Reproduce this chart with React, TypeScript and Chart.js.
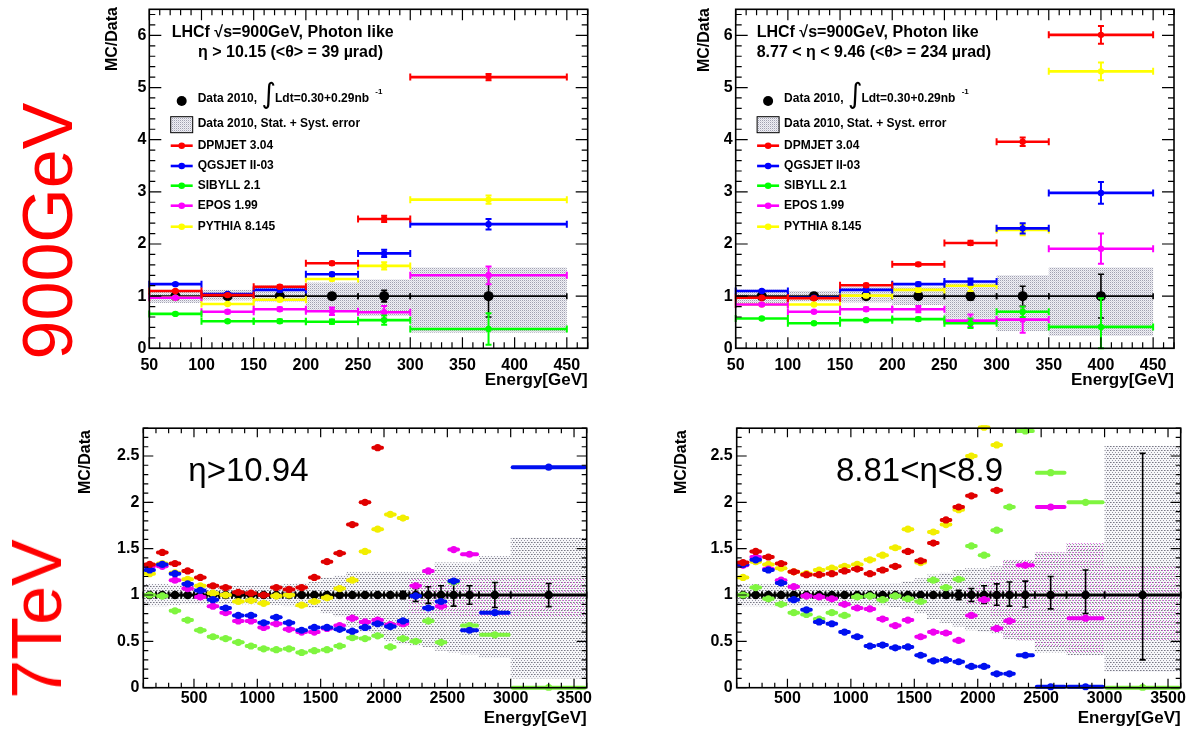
import React, { useEffect, useRef } from "react";
import { Chart, registerables } from "chart.js";

Chart.register(...registerables);

const FONT = "'Liberation Sans', Arial, Helvetica, sans-serif";

// ---------------- shared ----------------
const modelNames = ["DPMJET 3.04", "QGSJET II-03", "SIBYLL 2.1", "EPOS 1.99", "PYTHIA 8.145"];
const topColors = ["#ff0000", "#0000ff", "#00ff00", "#ff00ff", "#ffff00"];
const botColors = ["#e00000", "#0010f0", "#7ff53f", "#f000f0", "#f2ee00"];

const topXTicks = [50, 100, 150, 200, 250, 300, 350, 400, 450];
const topXLabels = ["50", "100", "150", "200", "250", "300", "350", "400", "450"];
const topYTicks = [0, 1, 2, 3, 4, 5, 6];
const topYLabels = ["0", "1", "2", "3", "4", "5", "6"];
const botXTicks = [500, 1000, 1500, 2000, 2500, 3000, 3500];
const botXLabels = ["500", "1000", "1500", "2000", "2500", "3000", "3500"];
const botYTicks = [0, 0.5, 1, 1.5, 2, 2.5];
const botYLabels = ["0", "0.5", "1", "1.5", "2", "2.5"];

// ---------------- top-left: 900 GeV, eta > 10.15 ----------------
const tlLo = [50, 100, 150, 200, 250, 300];
const tlHi = [100, 150, 200, 250, 300, 450];
const tlX = [75, 125, 175, 225, 275, 375];
const tlData = [1, 1, 1, 1, 1, 1];
const tlDataErr = [0.02, 0.02, 0.03, 0.04, 0.11, 0.4];
const tlBandLo = [0.87, 0.92, 0.89, 0.73, 0.62, 0.3];
const tlBandHi = [1.12, 1.12, 1.21, 1.26, 1.32, 1.55];
const tlDpmjet = [1.1, 1.02, 1.18, 1.63, 2.48, 5.2];
const tlQgsjet = [1.23, 1.04, 1.12, 1.42, 1.82, 2.38];
const tlSibyll = [0.66, 0.52, 0.52, 0.51, 0.54, 0.37];
const tlEpos = [0.97, 0.7, 0.75, 0.71, 0.69, 1.4];
const tlPythia = [0.97, 0.85, 0.93, 1.33, 1.58, 2.85];
const tlDpmjetErr = [0.02, 0.02, 0.03, 0.03, 0.06, 0.06];
const tlQgsjetErr = [0.02, 0.02, 0.03, 0.03, 0.07, 0.1];
const tlSibyllErr = [0.02, 0.02, 0.03, 0.04, 0.09, 0.3];
const tlEposErr = [0.02, 0.03, 0.03, 0.07, 0.12, 0.17];
const tlPythiaErr = [0.02, 0.02, 0.03, 0.03, 0.07, 0.08];

// ---------------- top-right: 900 GeV, 8.77 < eta < 9.46 ----------------
const trLo = [50, 100, 150, 200, 250, 300, 350];
const trHi = [100, 150, 200, 250, 300, 350, 450];
const trX = [75, 125, 175, 225, 275, 325, 400];
const trData = [1, 1, 1, 1, 1, 1, 1];
const trDataErr = [0.02, 0.02, 0.02, 0.03, 0.08, 0.19, 0.42];
const trBandLo = [0.86, 0.9, 0.88, 0.83, 0.57, 0.33, 0.24];
const trBandHi = [1.13, 1.1, 1.18, 1.18, 1.28, 1.4, 1.55];
const trDpmjet = [0.97, 0.96, 1.21, 1.61, 2.02, 3.96, 6.01];
const trQgsjet = [1.1, 0.97, 1.12, 1.23, 1.28, 2.3, 2.98];
const trSibyll = [0.57, 0.48, 0.54, 0.56, 0.48, 0.7, 0.41];
const trEpos = [0.84, 0.7, 0.75, 0.75, 0.53, 0.55, 1.91];
const trPythia = [0.84, 0.84, 1.01, 1.12, 1.2, 2.27, 5.31];
const trDpmjetErr = [0.02, 0.02, 0.03, 0.03, 0.04, 0.08, 0.17];
const trQgsjetErr = [0.02, 0.02, 0.03, 0.03, 0.06, 0.1, 0.21];
const trSibyllErr = [0.02, 0.02, 0.02, 0.03, 0.09, 0.1, 0.55];
const trEposErr = [0.02, 0.02, 0.03, 0.06, 0.12, 0.25, 0.29];
const trPythiaErr = [0.02, 0.02, 0.03, 0.03, 0.1, 0.1, 0.17];

// ---------------- bottom-left: 7 TeV, eta > 10.94 ----------------
const blLo = [100, 200, 300, 400, 500, 600, 700, 800, 900, 1000, 1100, 1200, 1300, 1400, 1500, 1600, 1700, 1800, 1900, 2000, 2100, 2200, 2300, 2400, 2500, 2600, 2750, 3000];
const blHi = [200, 300, 400, 500, 600, 700, 800, 900, 1000, 1100, 1200, 1300, 1400, 1500, 1600, 1700, 1800, 1900, 2000, 2100, 2200, 2300, 2400, 2500, 2600, 2750, 3000, 3600];
const blX = [150, 250, 350, 450, 550, 650, 750, 850, 950, 1050, 1150, 1250, 1350, 1450, 1550, 1650, 1750, 1850, 1950, 2050, 2150, 2250, 2350, 2450, 2550, 2675, 2875, 3300];
const blData = [1, 1, 1, 1, 1, 1, 1, 1, 1, 1, 1, 1, 1, 1, 1, 1, 1, 1, 1, 1, 1, 1, 1, 1, 1, 1, 1, 1];
const blDataErr = [0, 0, 0, 0, 0, 0, 0, 0, 0, 0, 0, 0, 0, 0, 0, 0, 0, 0, 0, 0.02, 0.04, 0.07, 0.09, 0.1, 0.12, 0.1, 0.135, 0.125];
const blBandLo = [0.88, 0.88, 0.89, 0.9, 0.9, 0.9, 0.9, 0.9, 0.9, 0.9, 0.89, 0.88, 0.87, 0.86, 0.8, 0.77, 0.66, 0.6, 0.55, 0.5, 0.47, 0.45, 0.44, 0.4, 0.38, 0.36, 0.32, 0.1];
const blBandHi = [1.12, 1.12, 1.11, 1.1, 1.1, 1.1, 1.1, 1.1, 1.1, 1.1, 1.11, 1.12, 1.13, 1.14, 1.19, 1.21, 1.25, 1.25, 1.25, 1.25, 1.25, 1.25, 1.25, 1.35, 1.35, 1.35, 1.42, 1.62];
const blEposBandLo = [null, null, null, null, null, null, null, null, null, null, null, null, null, null, null, null, null, null, null, null, null, 0.8, 0.8, 0.78, 0.78, 0.77, 0.77, 0.77];
const blEposBandHi = [null, null, null, null, null, null, null, null, null, null, null, null, null, null, null, null, null, null, null, null, null, 1.18, 1.18, 1.2, 1.2, 1.2, 1.2, 1.2];
const blDpmjet = [1.33, 1.46, 1.34, 1.26, 1.19, 1.1, 1.08, 1.03, 1.02, 1.0, 1.08, 1.06, 1.08, 1.19, 1.36, 1.45, 1.76, 2.0, 2.59, null, null, null, null, null, null, null, null, null];
const blQgsjet = [1.27, 1.33, 1.23, 1.12, 1.05, 0.95, 0.86, 0.78, 0.78, 0.7, 0.76, 0.7, 0.62, 0.65, 0.65, 0.63, 0.61, 0.65, 0.69, 0.66, 0.72, 0.99, 0.86, 0.93, 1.15, 0.62, 0.81, 2.38];
const blSibyll = [1.0, 0.99, 0.83, 0.73, 0.62, 0.55, 0.53, 0.49, 0.45, 0.42, 0.41, 0.42, 0.38, 0.4, 0.41, 0.45, 0.54, 0.53, 0.56, 0.44, 0.53, 0.5, 0.72, 0.49, 1.14, 0.67, 0.57, 0.0];
const blEpos = [1.31, 1.31, 1.16, 1.07, 0.98, 0.88, 0.81, 0.72, 0.72, 0.65, 0.69, 0.63, 0.6, 0.6, 0.64, 0.67, 0.75, 0.71, 0.73, 0.68, 0.69, 1.1, 1.26, 0.88, 1.49, 1.44, null, null];
const blPythia = [1.23, 1.34, 1.24, 1.17, 1.1, 1.02, 1.0, 0.93, 0.94, 0.91, 0.99, 1.0, 0.89, 0.93, 0.97, 1.07, 1.16, 1.47, 1.71, 1.87, 1.83, null, null, null, null, null, null, null];

// ---------------- bottom-right: 7 TeV, 8.81 < eta < 8.9 ----------------
const brLo = [100, 200, 300, 400, 500, 600, 700, 800, 900, 1000, 1100, 1200, 1300, 1400, 1500, 1600, 1700, 1800, 1900, 2000, 2100, 2200, 2300, 2450, 2700, 3000];
const brHi = [200, 300, 400, 500, 600, 700, 800, 900, 1000, 1100, 1200, 1300, 1400, 1500, 1600, 1700, 1800, 1900, 2000, 2100, 2200, 2300, 2450, 2700, 3000, 3600];
const brX = [150, 250, 350, 450, 550, 650, 750, 850, 950, 1050, 1150, 1250, 1350, 1450, 1550, 1650, 1750, 1850, 1950, 2050, 2150, 2250, 2375, 2575, 2850, 3300];
const brData = [1, 1, 1, 1, 1, 1, 1, 1, 1, 1, 1, 1, 1, 1, 1, 1, 1, 1, 1, 1, 1, 1, 1, 1, 1, 1];
const brDataErrHi = [0, 0, 0, 0, 0, 0, 0, 0, 0, 0, 0, 0, 0, 0, 0, 0, 0.03, 0.05, 0.07, 0.1, 0.12, 0.14, 0.15, 0.2, 0.27, 1.53];
const brDataErrLo = [0, 0, 0, 0, 0, 0, 0, 0, 0, 0, 0, 0, 0, 0, 0, 0, 0.03, 0.05, 0.07, 0.09, 0.11, 0.12, 0.13, 0.15, 0.2, 0.7];
const brBandLo = [0.88, 0.88, 0.88, 0.88, 0.88, 0.88, 0.88, 0.88, 0.88, 0.88, 0.88, 0.88, 0.87, 0.85, 0.8, 0.74, 0.7, 0.66, 0.62, 0.6, 0.58, 0.52, 0.51, 0.38, 0.35, 0.17];
const brBandHi = [1.12, 1.12, 1.12, 1.12, 1.12, 1.12, 1.12, 1.12, 1.12, 1.12, 1.12, 1.12, 1.13, 1.15, 1.18, 1.22, 1.24, 1.27, 1.29, 1.29, 1.31, 1.38, 1.38, 1.46, 1.56, 2.61];
const brEposBandLo = [null, null, null, null, null, null, null, null, null, null, null, null, null, null, null, null, null, null, 0.9, 0.85, 0.75, 0.55, 0.51, 0.45, 0.37, 0.5];
const brEposBandHi = [null, null, null, null, null, null, null, null, null, null, null, null, null, null, null, null, null, null, 1.1, 1.15, 1.25, 1.38, 1.38, 1.46, 1.56, 1.32];
const brDpmjet = [1.35, 1.47, 1.41, 1.34, 1.25, 1.22, 1.22, 1.23, 1.26, 1.28, 1.23, 1.27, 1.31, 1.47, 1.37, 1.56, 1.81, 1.95, 2.07, null, 2.13, null, null, null, null, null];
const brQgsjet = [1.33, 1.38, 1.27, 1.13, 0.95, 0.84, 0.71, 0.69, 0.6, 0.55, 0.45, 0.46, 0.43, 0.44, 0.35, 0.29, 0.3, 0.28, 0.23, 0.23, 0.15, 0.15, 0.35, 0.01, 0.01, null];
const brSibyll = [1.0, 1.08, 0.96, 0.9, 0.81, 0.79, 0.74, 0.81, 0.78, 0.98, 0.99, 0.95, 0.99, 0.96, 0.93, 1.16, 1.08, 1.17, 1.53, 1.43, 1.7, 1.95, 2.77, 2.32, 2.0, 0.0];
const brEpos = [1.32, 1.41, 1.28, 1.16, 1.09, 0.99, 0.98, 0.96, 0.9, 0.86, 0.85, 0.74, 0.67, 0.73, 0.55, 0.6, 0.59, 0.51, 0.78, 0.95, 0.64, 0.72, 1.32, 1.95, 0.75, null];
const brPythia = [1.19, 1.36, 1.33, 1.29, 1.25, 1.23, 1.27, 1.29, 1.31, 1.33, 1.38, 1.43, 1.51, 1.71, 1.35, 1.68, 1.76, 1.92, 2.5, 2.81, 2.62, null, null, null, null, null];

// ---------------- helpers ----------------
const zeros = (n: number) => new Array(n).fill(0);

function makeSeries(vals: any[][], errs: number[][] | null, colors: string[]) {
  return vals.map((v, k) => ({
    label: modelNames[k],
    color: colors[k],
    y: v,
    errLo: errs ? errs[k] : zeros(v.length),
    errHi: errs ? errs[k] : zeros(v.length),
  }));
}

function makeTile(dots: [number, number, string][], bg: string | null, w: number, h: number) {
  const c = document.createElement("canvas");
  c.width = w;
  c.height = h;
  const g = c.getContext("2d")!;
  if (bg) {
    g.fillStyle = bg;
    g.fillRect(0, 0, w, h);
  }
  dots.forEach(([x, y, col]) => {
    g.fillStyle = col;
    g.fillRect(x, y, 1, 1);
  });
  return c;
}

const topText = (text: string, x: number, y: number) => ({ text, x, y, font: `bold 16px ${FONT}` });

const panels: any[] = [
  {
    key: "tl",
    cx: 92, cy: 0, cw: 508, ch: 392,
    pl: 149.3, pr: 587.7, pt: 9.3, pb: 348.3,
    xMin: 50, xMax: 470, yMin: 0, yMax: 6.5,
    xTicks: topXTicks, xLabels: topXLabels, yTicks: topYTicks, yLabels: topYLabels,
    xMinor: 10, yMinor: 0.2, xMaj: 11, xMin2: 6, yMaj: 12, yMin2: 6, xPad: 8, yPad: 3,
    lo: tlLo, hi: tlHi, xc: tlX,
    series: makeSeries([tlDpmjet, tlQgsjet, tlSibyll, tlEpos, tlPythia], [tlDpmjetErr, tlQgsjetErr, tlSibyllErr, tlEposErr, tlPythiaErr], topColors),
    data: tlData, dataErrLo: tlDataErr, dataErrHi: tlDataErr,
    bandLo: tlBandLo, bandHi: tlBandHi, band2Lo: null, band2Hi: null,
    mcLine: 2.6, mcRadius: 3.2, mcCap: 3.5, mcRound: false,
    dataLine: 1.6, dataRadius: 5, dataCap: 3, dataColor: "#000",
    top: true,
    texts: [topText("LHCf \u221As=900GeV, Photon like", 171.7, 33), topText("\u03B7 > 10.15 (<\u03B8> = 39 \u00B5rad)", 198, 52.7)],
    yTitle: { x: 113, y: 7 }, xTitle: { y: 380 },
  },
  {
    key: "tr",
    cx: 680, cy: 0, cw: 508, ch: 392,
    pl: 735.7, pr: 1174, pt: 9.3, pb: 348.3,
    xMin: 50, xMax: 470, yMin: 0, yMax: 6.5,
    xTicks: topXTicks, xLabels: topXLabels, yTicks: topYTicks, yLabels: topYLabels,
    xMinor: 10, yMinor: 0.2, xMaj: 11, xMin2: 6, yMaj: 12, yMin2: 6, xPad: 8, yPad: 3,
    lo: trLo, hi: trHi, xc: trX,
    series: makeSeries([trDpmjet, trQgsjet, trSibyll, trEpos, trPythia], [trDpmjetErr, trQgsjetErr, trSibyllErr, trEposErr, trPythiaErr], topColors),
    data: trData, dataErrLo: trDataErr, dataErrHi: trDataErr,
    bandLo: trBandLo, bandHi: trBandHi, band2Lo: null, band2Hi: null,
    mcLine: 2.6, mcRadius: 3.2, mcCap: 3.5, mcRound: false,
    dataLine: 1.6, dataRadius: 5, dataCap: 3, dataColor: "#000",
    top: true,
    texts: [topText("LHCf \u221As=900GeV, Photon like", 756.7, 33), topText("8.77 < \u03B7 < 9.46 (<\u03B8> = 234 \u00B5rad)", 756.7, 52.7)],
    yTitle: { x: 705, y: 8 }, xTitle: { y: 380 },
  },
  {
    key: "bl",
    cx: 60, cy: 398, cw: 540, ch: 331,
    pl: 143.3, pr: 586.7, pt: 428.2, pb: 687.7,
    xMin: 100, xMax: 3600, yMin: 0, yMax: 2.8,
    xTicks: botXTicks, xLabels: botXLabels, yTicks: botYTicks, yLabels: botYLabels,
    xMinor: 100, yMinor: 0.1, xMaj: 9, xMin2: 5, yMaj: 10, yMin2: 5, xPad: 1, yPad: 4,
    lo: blLo, hi: blHi, xc: blX,
    series: makeSeries([blDpmjet, blQgsjet, blSibyll, blEpos, blPythia], null, botColors),
    data: blData, dataErrLo: blDataErr, dataErrHi: blDataErr,
    bandLo: blBandLo, bandHi: blBandHi, band2Lo: blEposBandLo, band2Hi: blEposBandHi,
    mcLine: 4, mcRadius: 3.6, mcCap: 0, mcRound: true,
    dataLine: 2.8, dataRadius: 4.3, dataCap: 3.5, dataColor: "#000",
    top: false,
    texts: [{ text: "\u03B7>10.94", x: 188.3, y: 471.7, font: `33px ${FONT}` }],
    yTitle: { x: 86, y: 430 }, xTitle: { y: 718 },
  },
  {
    key: "br",
    cx: 660, cy: 398, cw: 528, ch: 331,
    pl: 736.7, pr: 1180.7, pt: 428.2, pb: 687.7,
    xMin: 100, xMax: 3600, yMin: 0, yMax: 2.8,
    xTicks: botXTicks, xLabels: botXLabels, yTicks: botYTicks, yLabels: botYLabels,
    xMinor: 100, yMinor: 0.1, xMaj: 9, xMin2: 5, yMaj: 10, yMin2: 5, xPad: 1, yPad: 4,
    lo: brLo, hi: brHi, xc: brX,
    series: makeSeries([brDpmjet, brQgsjet, brSibyll, brEpos, brPythia], null, botColors),
    data: brData, dataErrLo: brDataErrLo, dataErrHi: brDataErrHi,
    bandLo: brBandLo, bandHi: brBandHi, band2Lo: brEposBandLo, band2Hi: brEposBandHi,
    mcLine: 4, mcRadius: 3.6, mcCap: 0, mcRound: true,
    dataLine: 2.8, dataRadius: 4.3, dataCap: 3.5, dataColor: "#000",
    top: false,
    texts: [{ text: "8.81<\u03B7<8.9", x: 836, y: 471.7, font: `33px ${FONT}` }],
    yTitle: { x: 682, y: 430 }, xTitle: { y: 718 },
  },
];

function buildChart(canvas: HTMLCanvasElement, c: any) {
  const ctx0 = canvas.getContext("2d")!;
  const bandPat = c.top
    ? ctx0.createPattern(makeTile([[0, 0, "rgb(160,160,176)"], [1, 1, "rgb(212,212,222)"]], "rgb(240,240,245)", 2, 2), "repeat")
    : ctx0.createPattern(makeTile([[0, 0, "rgb(120,120,132)"], [1, 0, "rgb(175,175,185)"], [2, 2, "rgb(150,150,162)"]], "rgb(246,246,249)", 3, 4), "repeat");
  const band2Pat = ctx0.createPattern(makeTile([[1, 1, "rgba(225,70,225,0.85)"]], null, 3, 3), "repeat");

  const drawBand = (chart: any, lo: any[], hi: any[], pat: any) => {
    const { ctx } = chart;
    const xs = chart.scales.x, ys = chart.scales.y;
    ctx.fillStyle = pat;
    for (let j = 0; j < lo.length; j++) {
      if (lo[j] === null || hi[j] === null) continue;
      const x1 = xs.getPixelForValue(c.lo[j]);
      const x2 = xs.getPixelForValue(c.hi[j]);
      const y1 = ys.getPixelForValue(hi[j]);
      const y2 = ys.getPixelForValue(lo[j]);
      ctx.fillRect(x1, y1, x2 - x1, y2 - y1);
    }
  };

  const drawSeries = (chart: any, vals: any[], eLo: number[], eHi: number[], color: string, lw: number, cap: number, errLw: number, round: boolean) => {
    const { ctx, chartArea: a } = chart;
    const xs = chart.scales.x, ys = chart.scales.y;
    ctx.save();
    ctx.beginPath();
    ctx.rect(a.left - 3, a.top - 3, a.right - a.left + 6, a.bottom - a.top + 6);
    ctx.clip();
    ctx.strokeStyle = color;
    for (let j = 0; j < vals.length; j++) {
      const v = vals[j];
      if (v === null || v === undefined) continue;
      const py = ys.getPixelForValue(v);
      const x1 = xs.getPixelForValue(c.lo[j]);
      const x2 = xs.getPixelForValue(c.hi[j]);
      ctx.lineCap = round ? "round" : "butt";
      ctx.lineWidth = lw;
      ctx.beginPath();
      ctx.moveTo(x1 + (round ? lw / 2 : 0), py);
      ctx.lineTo(x2 - (round ? lw / 2 : 0), py);
      ctx.stroke();
      ctx.lineCap = "butt";
      if (cap > 0) {
        ctx.lineWidth = errLw;
        ctx.beginPath();
        ctx.moveTo(x1, py - cap);
        ctx.lineTo(x1, py + cap);
        ctx.moveTo(x2, py - cap);
        ctx.lineTo(x2, py + cap);
        ctx.stroke();
      }
      const up = eHi[j] || 0;
      const dn = eLo[j] || 0;
      if (up > 0 || dn > 0) {
        const px = xs.getPixelForValue(c.xc[j]);
        const yt = ys.getPixelForValue(v + up);
        const yb = ys.getPixelForValue(Math.max(v - dn, c.yMin));
        const ec = 3;
        ctx.lineWidth = errLw;
        ctx.beginPath();
        ctx.moveTo(px, yt);
        ctx.lineTo(px, yb);
        ctx.moveTo(px - ec, yt);
        ctx.lineTo(px + ec, yt);
        ctx.moveTo(px - ec, yb);
        ctx.lineTo(px + ec, yb);
        ctx.stroke();
      }
    }
    ctx.restore();
  };

  const plugin = {
    id: "lhcfDraw" + c.key,
    beforeDatasetsDraw(chart: any) {
      const { ctx, chartArea: a } = chart;
      ctx.save();
      ctx.beginPath();
      ctx.rect(a.left, a.top, a.right - a.left, a.bottom - a.top);
      ctx.clip();
      drawBand(chart, c.bandLo, c.bandHi, bandPat);
      if (c.band2Lo) drawBand(chart, c.band2Lo, c.band2Hi, band2Pat);
      ctx.restore();
    },
    beforeDatasetDraw(chart: any, args: any) {
      const i = args.index;
      if (i < c.series.length) {
        const s = c.series[i];
        drawSeries(chart, s.y, s.errLo, s.errHi, s.color, c.mcLine, c.mcCap, 2, c.mcRound);
      } else {
        drawSeries(chart, c.data, c.dataErrLo, c.dataErrHi, c.dataColor, c.dataLine, c.dataCap, 1.6, false);
      }
    },
    afterDraw(chart: any) {
      const { ctx, chartArea: a } = chart;
      const xs = chart.scales.x, ys = chart.scales.y;
      ctx.save();
      // frame
      ctx.strokeStyle = "#000";
      ctx.lineWidth = 1.6;
      ctx.strokeRect(a.left, a.top, a.right - a.left, a.bottom - a.top);
      // ticks
      ctx.lineWidth = 1.2;
      ctx.beginPath();
      const isMaj = (v: number, arr: number[]) => arr.some((t) => Math.abs(t - v) < 1e-6);
      for (let n = Math.ceil(c.xMin / c.xMinor - 1e-9); n * c.xMinor <= c.xMax + 1e-9; n++) {
        const v = n * c.xMinor;
        const px = xs.getPixelForValue(v);
        const L = isMaj(v, c.xTicks) ? c.xMaj : c.xMin2;
        ctx.moveTo(px, a.bottom);
        ctx.lineTo(px, a.bottom - L);
        ctx.moveTo(px, a.top);
        ctx.lineTo(px, a.top + L);
      }
      for (let n = Math.ceil(c.yMin / c.yMinor - 1e-9); n * c.yMinor <= c.yMax + 1e-9; n++) {
        const v = n * c.yMinor;
        const py = ys.getPixelForValue(v);
        const L = isMaj(v, c.yTicks) ? c.yMaj : c.yMin2;
        ctx.moveTo(a.left, py);
        ctx.lineTo(a.left + L, py);
        ctx.moveTo(a.right, py);
        ctx.lineTo(a.right - L, py);
      }
      ctx.stroke();

      // texts
      ctx.fillStyle = "#000";
      ctx.textBaseline = "middle";
      ctx.textAlign = "left";
      c.texts.forEach((t: any) => {
        ctx.font = t.font;
        ctx.fillText(t.text, t.x - c.cx, t.y - c.cy);
      });

      // axis titles
      ctx.font = `bold 17px ${FONT}`;
      ctx.textAlign = "right";
      ctx.fillText("Energy[GeV]", c.pr - c.cx, c.xTitle.y - c.cy);
      ctx.save();
      ctx.translate(c.yTitle.x - c.cx, c.yTitle.y - c.cy);
      ctx.rotate(-Math.PI / 2);
      ctx.font = `bold 16px ${FONT}`;
      ctx.textAlign = "right";
      ctx.fillText("MC/Data", 0, 0);
      ctx.restore();

      // legend (top panels)
      if (c.top) {
        const L0 = c.pl - c.cx;
        const T0 = -c.cy;
        const rows = [101, 124, 145.7, 166, 185.7, 205.7, 226.7];
        ctx.textAlign = "left";
        ctx.fillStyle = "#000";
        ctx.beginPath();
        ctx.arc(L0 + 32.4, T0 + rows[0], 5, 0, Math.PI * 2);
        ctx.fill();
        ctx.font = `bold 12px ${FONT}`;
        ctx.fillText("Data 2010,", L0 + 48.4, T0 + rows[0] - 2.5);
        ctx.fillText("Ldt=0.30+0.29nb", L0 + 125.7, T0 + rows[0] - 2.5);
        ctx.font = `bold 8px ${FONT}`;
        ctx.fillText("-1", L0 + 226, T0 + 92);
        ctx.font = `28px 'DejaVu Sans', sans-serif`;
        ctx.textAlign = "center";
        ctx.fillText("\u222B", L0 + 119.5, T0 + 96);
        ctx.textAlign = "left";
        // band box
        ctx.fillStyle = bandPat;
        ctx.fillRect(L0 + 21.4, T0 + 116.7, 22, 16);
        ctx.strokeStyle = "#000";
        ctx.lineWidth = 1;
        ctx.strokeRect(L0 + 21.4, T0 + 116.7, 22, 16);
        ctx.fillStyle = "#000";
        ctx.font = `bold 12px ${FONT}`;
        ctx.fillText("Data 2010, Stat. + Syst. error", L0 + 48.4, T0 + rows[1]);
        c.series.forEach((s: any, k: number) => {
          const y = T0 + rows[2 + k];
          ctx.strokeStyle = s.color;
          ctx.lineWidth = 2.6;
          ctx.beginPath();
          ctx.moveTo(L0 + 21.4, y);
          ctx.lineTo(L0 + 43.4, y);
          ctx.stroke();
          ctx.fillStyle = s.color;
          ctx.beginPath();
          ctx.arc(L0 + 32.4, y, 3.3, 0, Math.PI * 2);
          ctx.fill();
          ctx.fillStyle = "#000";
          ctx.fillText(s.label, L0 + 48.4, y);
        });
      }
      ctx.restore();
    },
  };

  const pts = (ys: any[]) => c.xc.map((x: number, j: number) => ({ x, y: ys[j] })).filter((p: any) => p.y !== null && p.y !== undefined);

  const datasets: any[] = c.series.map((s: any) => ({
    label: s.label,
    data: pts(s.y),
    showLine: false,
    pointRadius: c.mcRadius,
    pointBackgroundColor: s.color,
    pointBorderColor: s.color,
    pointBorderWidth: 0,
    clip: 3,
  }));
  datasets.push({
    label: "Data 2010",
    data: pts(c.data),
    showLine: false,
    pointRadius: c.dataRadius,
    pointBackgroundColor: c.dataColor,
    pointBorderColor: c.dataColor,
    pointBorderWidth: 0,
    clip: 3,
  });

  const tickFont = { family: FONT, size: 16, weight: "bold" as const };

  return new Chart(canvas, {
    type: "scatter",
    data: { datasets },
    plugins: [plugin],
    options: {
      responsive: false,
      animation: false,
      events: [],
      layout: { padding: { left: 0, top: c.pt - c.cy, right: c.cx + c.cw - c.pr, bottom: 0 } },
      plugins: { legend: { display: false }, tooltip: { enabled: false }, title: { display: false } },
      scales: {
        x: {
          type: "linear",
          min: c.xMin,
          max: c.xMax,
          grid: { display: false, drawTicks: false },
          border: { display: false },
          afterBuildTicks: (s: any) => {
            s.ticks = c.xTicks.map((v: number) => ({ value: v }));
          },
          afterFit: (s: any) => {
            s.height = c.cy + c.ch - c.pb;
            s.paddingLeft = 0;
            s.paddingRight = 0;
          },
          ticks: {
            autoSkip: false,
            maxRotation: 0,
            minRotation: 0,
            padding: c.xPad,
            color: "#000",
            font: tickFont,
            callback: (_v: any, idx: number) => c.xLabels[idx],
          },
        },
        y: {
          type: "linear",
          min: c.yMin,
          max: c.yMax,
          grid: { display: false, drawTicks: false },
          border: { display: false },
          afterBuildTicks: (s: any) => {
            s.ticks = c.yTicks.map((v: number) => ({ value: v }));
          },
          afterFit: (s: any) => {
            s.width = c.pl - c.cx;
            s.paddingTop = 0;
            s.paddingBottom = 0;
          },
          ticks: {
            autoSkip: false,
            padding: c.yPad,
            color: "#000",
            font: tickFont,
            callback: (_v: any, idx: number) => c.yLabels[idx],
          },
        },
      },
    } as any,
  });
}

function Panel({ cfg }: { cfg: any }) {
  const ref = useRef<HTMLCanvasElement>(null);
  useEffect(() => {
    if (!ref.current) return;
    const chart = buildChart(ref.current, cfg);
    return () => chart.destroy();
  }, [cfg]);
  return (
    <canvas
      ref={ref}
      width={cfg.cw}
      height={cfg.ch}
      style={{ position: "absolute", left: cfg.cx, top: cfg.cy, width: cfg.cw, height: cfg.ch }}
    />
  );
}

const redLabel = (text: string, x: number, y: number) => (
  <div
    style={{
      position: "absolute",
      left: x,
      top: y,
      transform: "translate(-50%, -50%) rotate(-90deg)",
      color: "#ff0000",
      font: `70px ${FONT}`,
      lineHeight: 1,
      whiteSpace: "nowrap",
    }}
  >
    {text}
  </div>
);

export default function App() {
  return (
    <div
      style={{
        position: "fixed",
        left: 0,
        top: 0,
        width: 1188,
        height: 729,
        background: "#fff",
        overflow: "hidden",
      }}
    >
      {panels.map((p) => (
        <Panel key={p.key} cfg={p} />
      ))}
      {redLabel("900GeV", 48, 231)}
      {redLabel("7TeV", 37, 619)}
    </div>
  );
}
